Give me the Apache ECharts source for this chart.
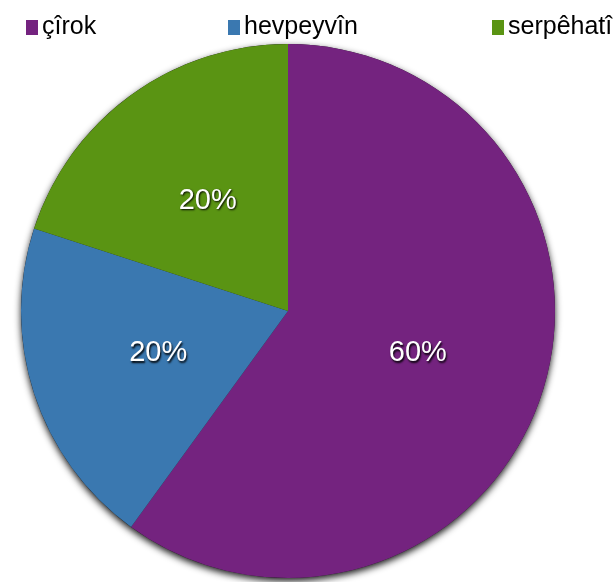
<!DOCTYPE html>
<html>
<head>
<meta charset="utf-8">
<script src="https://cdn.jsdelivr.net/npm/echarts@6/dist/echarts.min.js"></script>
<style>
  html, body { margin: 0; padding: 0; background: #fff; }
  #chart { width: 615px; height: 582px; }
</style>
</head>
<body>
<div id="chart"></div>
<script>
var categories = ['çîrok', 'hevpeyvîn', 'serpêhatî'];
var values = [60, 20, 20];
var colors = ['#74237f', '#3a78b0', '#5a9413'];

var chart = echarts.init(document.getElementById('chart'), null, {renderer: 'canvas'});

var legendLefts = [26, 228, 492];
var legends = categories.map(function (name, i) {
    return {
        data: [name],
        top: 15,
        left: legendLefts[i],
        padding: 0,
        itemWidth: 12,
        itemHeight: 15,
        itemGap: 4,
        icon: 'rect',
        textStyle: {fontFamily: 'Liberation Sans', fontSize: 25, color: '#000', padding: [0, 0, 0, -1]}
    };
});

var pieData = categories.map(function (name, i) {
    return {name: name, value: values[i], itemStyle: {color: colors[i]}};
});

chart.setOption({
    animation: false,
    legend: legends,
    series: [
        {
            // shadow disc behind the slices
            type: 'pie',
            silent: true,
            center: [288, 311],
            radius: 267,
            z: 1,
            label: {show: false},
            labelLine: {show: false},
            data: [{value: 1, name: '_bg', itemStyle: {
                color: '#222',
                shadowColor: 'rgba(0,0,0,0.9)',
                shadowBlur: 7,
                shadowOffsetX: 0,
                shadowOffsetY: 3
            }}],
            legendHoverLink: false
        },
        {
            type: 'pie',
            center: [288, 311],
            radius: 267,
            startAngle: 90,
            clockwise: true,
            z: 2,
            label: {
                show: true,
                position: 'inner',
                formatter: '{c}%',
                color: '#fff',
                fontFamily: 'Liberation Sans',
                fontSize: 29,
                textShadowColor: 'rgba(0,0,0,0.95)',
                textShadowBlur: 2,
                textShadowOffsetX: 1,
                textShadowOffsetY: 1.5
            },
            labelLine: {show: false},
            itemStyle: {borderWidth: 0},
            data: pieData
        }
    ]
});
</script>
</body>
</html>
